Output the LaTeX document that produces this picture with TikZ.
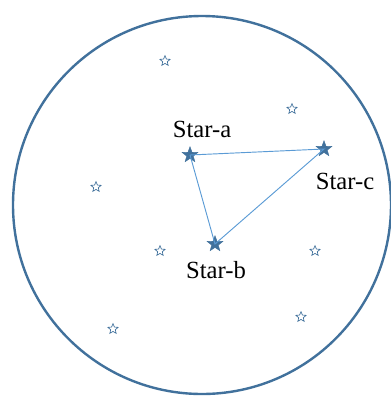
\documentclass[tikz,border=0pt]{standalone}
\usepackage{fontspec}
\setmainfont{Liberation Serif}
\definecolor{ringblue}{HTML}{41719C}
\definecolor{lineblue}{HTML}{5B9BD5}
\usetikzlibrary{shapes.geometric}

\begin{document}
\begin{tikzpicture}[x=0.75pt,y=-0.75pt,
  bigstar/.style={star,star points=5,star point ratio=2.4,minimum size=12.5pt,inner sep=0pt,fill=ringblue,draw=ringblue,line width=0.3pt},
  smallstar/.style={star,star points=5,star point ratio=2.2,minimum size=8pt,inner sep=0pt,draw=ringblue,line width=0.5pt,fill=white},
  starlabel/.style={anchor=base,font=\fontsize{18.5}{22}\selectfont,text=black},
  edge/.style={lineblue,line width=0.7pt}]
  \useasboundingbox (0,0) rectangle (391,397);
  % field of view
  \draw[ringblue,line width=1.8pt] (202,205) circle [radius=141.75pt];
  % background stars
  \node[smallstar] (s1) at (165,61) {};
  \node[smallstar] (s2) at (292,109) {};
  \node[smallstar] (s3) at (96,187) {};
  \node[smallstar] (s4) at (160,251) {};
  \node[smallstar] (s5) at (315,251) {};
  \node[smallstar] (s6) at (113,329) {};
  \node[smallstar] (s7) at (301,317) {};
  % triangle of reference stars
  \node[bigstar] (stara) at (190,155) {};
  \node[bigstar] (starc) at (324,149) {};
  \node[bigstar] (starb) at (215,244) {};
  \draw[edge] (stara.center) -- (starc.center) -- (starb.center) -- (stara.center);
  % labels
  \node[starlabel] (laba) at (202,137) {Star-a};
  \node[starlabel] (labc) at (345,189) {Star-c};
  \node[starlabel] (labb) at (216,278) {Star-b};
\end{tikzpicture}
\end{document}
